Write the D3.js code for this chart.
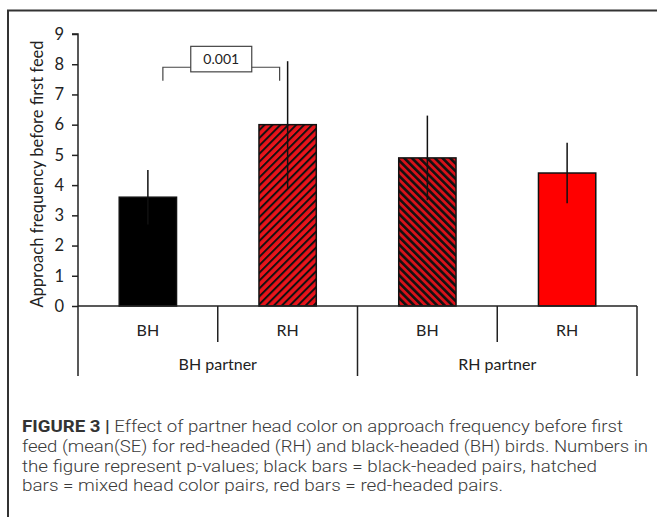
<!DOCTYPE html>
<html><head><meta charset="utf-8">
<script src="https://cdn.jsdelivr.net/npm/d3@7"></script>
<style>body{margin:0;background:#fff}svg{display:block}</style>
</head><body>
<script>
// ---- data ----
const categories = ["BH", "RH", "BH", "RH"];
const groups = ["BH partner", "RH partner"];
const means = [3.6, 6.0, 4.9, 4.4];
const se = [0.9, 2.1, 1.4, 1.0];
const fills = ["solid-black", "hatch-a", "hatch-b", "solid-red"];
const yTicks = [0,1,2,3,4,5,6,7,8,9];
const yTitle = "Approach frequency before first feed";
const pValue = "0.001";
const bracketY = [7.9, 7.45];
const captionBold = "FIGURE 3 |";
const captionLines = [
  " Effect of partner head color on approach frequency before first",
  "feed (mean(SE) for red-headed (RH) and black-headed (BH) birds. Numbers in",
  "the figure represent p-values; black bars = black-headed pairs, hatched",
  "bars = mixed head color pairs, red bars = red-headed pairs."
];

const W = 657, H = 517;
const svg = d3.select("body").append("svg").attr("width", W).attr("height", H);

// frame
svg.append("path").attr("d", `M8,${H} L8,10.5 L${W},10.5`).attr("fill","none").attr("stroke","#333").attr("stroke-width",2);

const defs = svg.append("defs");
const pa = defs.append("pattern").attr("id","hatch-a").attr("patternUnits","userSpaceOnUse")
  .attr("width",5.6).attr("height",5.6).attr("patternTransform","rotate(45)");
pa.append("rect").attr("width",5.6).attr("height",5.6).attr("fill","#e8141b");
pa.append("rect").attr("width",2.0).attr("height",5.6).attr("fill","#111");
const pb = defs.append("pattern").attr("id","hatch-b").attr("patternUnits","userSpaceOnUse")
  .attr("width",5.4).attr("height",5.4).attr("patternTransform","rotate(-45)");
pb.append("rect").attr("width",5.4).attr("height",5.4).attr("fill","#d8121a");
pb.append("rect").attr("width",2.6).attr("height",5.4).attr("fill","#111");

const fillOf = f => f === "solid-black" ? "#000" : f === "solid-red" ? "#ff0000" : `url(#${f})`;

const x0 = 78, x1 = 637, yBase = 306, yTop = 34;
const x = d3.scaleBand().domain(d3.range(categories.length)).range([x0, x1]).paddingInner(0).paddingOuter(0);
const xg = d3.scaleBand().domain(d3.range(groups.length)).range([x0, x1]);
const y = d3.scaleLinear().domain([0, 9]).range([yBase, yTop]);
const barW = x.bandwidth() * 0.41;

const font = "Lato, 'Open Sans', sans-serif";

// bars
svg.selectAll("rect.bar").data(means).join("rect").attr("class","bar")
  .attr("x", (d,i) => x(i) + (x.bandwidth()-barW)/2)
  .attr("y", d => y(d)).attr("width", barW).attr("height", d => y(0)-y(d))
  .attr("fill", (d,i) => fillOf(fills[i])).attr("stroke","#111").attr("stroke-width",1.5);

// error bars
svg.selectAll("line.err").data(means).join("line").attr("class","err")
  .attr("x1", (d,i) => x(i)+x.bandwidth()/2).attr("x2", (d,i) => x(i)+x.bandwidth()/2)
  .attr("y1", (d,i) => y(d - se[i])).attr("y2", (d,i) => y(d + se[i]))
  .attr("stroke","#111").attr("stroke-width",1.5);

// y axis
const yAxis = svg.append("g").attr("transform",`translate(${x0},0)`)
  .call(d3.axisLeft(y).tickValues(yTicks).tickSize(6).tickPadding(8).tickFormat(d3.format("d")));
yAxis.select(".domain").attr("stroke","#222").attr("stroke-width",1.5).attr("d",`M-6,${yTop}H0V${yBase}`);
yAxis.selectAll(".tick line").attr("stroke","#222").attr("stroke-width",1.5);
yAxis.selectAll(".tick text").attr("font-family",font).attr("font-size",16.5).attr("fill","#222");

svg.append("text").attr("transform",`translate(43,${(yTop+yBase)/2+4}) rotate(-90)`)
  .attr("text-anchor","middle").attr("font-family",font).attr("font-size",16.5).attr("fill","#222")
  .text(yTitle);

// x axis
svg.append("line").attr("x1",x0).attr("x2",x1).attr("y1",yBase).attr("y2",yBase).attr("stroke","#222").attr("stroke-width",1.5);
const bounds = d3.range(categories.length+1).map(i => i < categories.length ? x(i) : x1);
svg.selectAll("line.sep").data(bounds).join("line").attr("class","sep")
  .attr("x1", d=>d).attr("x2", d=>d).attr("y1", yBase)
  .attr("y2", (d,i) => i % 2 === 0 ? 376 : 342)
  .attr("stroke","#222").attr("stroke-width",1.5);
svg.selectAll("text.cat").data(categories).join("text").attr("class","cat")
  .attr("x",(d,i)=>x(i)+x.bandwidth()/2).attr("y",336).attr("text-anchor","middle")
  .attr("font-family",font).attr("font-size",16).attr("fill","#222").text(d=>d);
svg.selectAll("text.grp").data(groups).join("text").attr("class","grp")
  .attr("x",(d,i)=>xg(i)+xg.bandwidth()/2).attr("y",369.5).attr("text-anchor","middle")
  .attr("font-family",font).attr("font-size",16).attr("fill","#222").text(d=>d);

// significance bracket
const bl = x(0) + x.bandwidth()/2 + 15, br = x(1) + x.bandwidth()/2 - 8;
svg.append("path").attr("d",`M${bl},${y(bracketY[1])}V${y(bracketY[0])}H${br}V${y(bracketY[1])}`)
  .attr("fill","none").attr("stroke","#444").attr("stroke-width",1.2);
const bw = 61, bh = 25.5, bcx = (bl+br)/2 - 0;
svg.append("rect").attr("x",bcx-bw/2).attr("y",y(bracketY[0])+4.6-bh).attr("width",bw).attr("height",bh)
  .attr("fill","#fff").attr("stroke","#444").attr("stroke-width",1.2);
svg.append("text").attr("x",bcx).attr("y",y(bracketY[0])+4.6-bh/2+5).attr("text-anchor","middle")
  .attr("font-family",font).attr("font-size",14).attr("fill","#222").text(pValue);

// caption
const capFont = "Roboto, 'Liberation Sans', sans-serif";
const ends = [623, 648, 597, 503];
const baselines = [432, 452, 472, 491];
captionLines.forEach((ln,i) => {
  const t = svg.append("text").attr("x",22).attr("y",baselines[i])
    .attr("font-family",capFont).attr("font-size",16.5).attr("font-weight",300).attr("fill","#3a3a3a");
  if (i === 0) t.append("tspan").attr("font-weight",700).attr("fill","#333").text(captionBold);
  t.append("tspan").text(ln);
  t.attr("textLength", ends[i]-22).attr("lengthAdjust","spacingAndGlyphs");
});
</script>
</body></html>
